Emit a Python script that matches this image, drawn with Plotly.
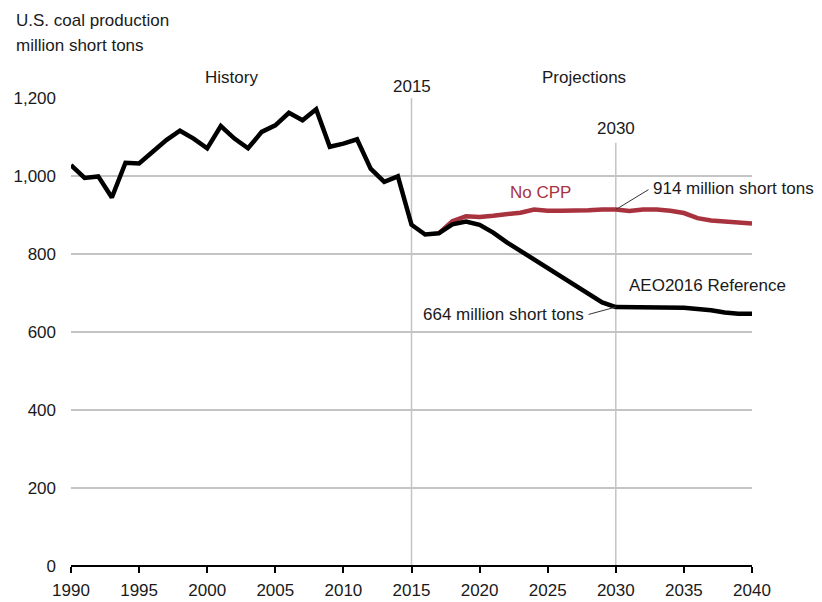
import plotly.graph_objects as go

# ---- data ----
hist_years = list(range(1990, 2016))
hist_values = [1028, 995, 999, 945, 1034, 1032, 1062, 1092, 1116, 1096, 1071, 1128, 1096,
               1071, 1113, 1130, 1162, 1143, 1171, 1075, 1083, 1094, 1019, 985, 999, 875]
ref_years = list(range(2016, 2041))
ref_values = [850, 853, 876, 883, 875, 855, 830, 808, 785, 763, 743, 722, 697, 676, 664,
              664, 664, 664, 663, 662, 659, 656, 650, 647, 647]
nocpp_years = list(range(2017, 2041))
nocpp_values = [853, 884, 897, 895, 898, 903, 906, 914, 911, 911, 911, 912, 914, 914,
                910, 914, 914, 911, 905, 892, 886, 884, 881, 878]
x_ticks = list(range(1990, 2041, 5))
y_ticks = [0, 200, 400, 600, 800, 1000, 1200]
y_tick_labels = ["0", "200", "400", "600", "800", "1,000", "1,200"]

FONT = "Liberation Sans, Arial, sans-serif"
FS = 17
TXT = "#1a1a1a"
RED = "#a8333f"
GRID = "#c4c4c4"

fig = go.Figure()
fig.add_trace(go.Scatter(x=nocpp_years, y=nocpp_values, mode="lines",
                         line=dict(color=RED, width=4.5), hoverinfo="skip", showlegend=False))
fig.add_trace(go.Scatter(x=hist_years + ref_years, y=hist_values + ref_values, mode="lines",
                         line=dict(color="#000000", width=4.5), hoverinfo="skip", showlegend=False))

# vertical reference lines
fig.add_shape(type="line", x0=2015, x1=2015, y0=0, y1=1200, xref="x", yref="y",
              line=dict(color=GRID, width=1.5), layer="below")
fig.add_shape(type="line", x0=2030, x1=2030, y0=0, y1=1085, xref="x", yref="y",
              line=dict(color=GRID, width=1.5), layer="below")
# leader lines
fig.add_shape(type="line", x0=2030, y0=914, x1=2032.4, y1=965, xref="x", yref="y",
              line=dict(color="#333333", width=1))
fig.add_shape(type="line", x0=2030, y0=664, x1=2028.0, y1=645, xref="x", yref="y",
              line=dict(color="#333333", width=1))

def ann(text, x, y, xanchor="center", color=TXT, xref="x", yref="y"):
    fig.add_annotation(text=text, x=x, y=y, xref=xref, yref=yref, xanchor=xanchor,
                       yanchor="middle", showarrow=False,
                       font=dict(family=FONT, size=FS, color=color))

def py(pixel_y):
    return (566 - pixel_y) / 468

ann("History", 2001.8, py(78), yref="paper")
ann("2015", 2015, py(86), yref="paper")
ann("Projections", 2027.7, py(78), yref="paper")
ann("2030", 2030, 1123)
ann("No CPP", 2024.5, 958, color=RED)
ann("914 million short tons", 2032.6, 967, xanchor="left")
ann("AEO2016 Reference", 2030.8, 720, xanchor="left")
ann("664 million short tons", 2027.8, 644, xanchor="right")
ann("U.S. coal production", -57 / 681, py(21), xanchor="left", xref="paper", yref="paper")
ann("million short tons", -57 / 681, py(46), xanchor="left", xref="paper", yref="paper")

# page body adds an 8px offset; margins compensate so the plot lands at x 71..752, y 98..566
fig.update_layout(
    width=822, height=602,
    margin=dict(l=63, r=78, t=90, b=44),
    paper_bgcolor="white", plot_bgcolor="white",
    font=dict(family=FONT, size=FS, color=TXT),
    showlegend=False,
)
fig.update_xaxes(range=[1990, 2040], tickmode="array", tickvals=x_ticks,
                 ticks="outside", ticklen=6, tickcolor="#000", tickwidth=1.5,
                 showline=False, showgrid=False, zeroline=False, automargin=False,
                 ticklabelstandoff=3,
                 tickfont=dict(family=FONT, size=FS, color=TXT))
fig.update_yaxes(range=[0, 1200], tickmode="array", tickvals=y_ticks, ticktext=y_tick_labels,
                 showgrid=True, gridcolor=GRID, gridwidth=1.5,
                 zeroline=True, zerolinecolor="#000", zerolinewidth=1.5,
                 showline=False, ticks="", ticklabelstandoff=14, automargin=False,
                 tickfont=dict(family=FONT, size=FS, color=TXT))

fig.write_html("out.html")
